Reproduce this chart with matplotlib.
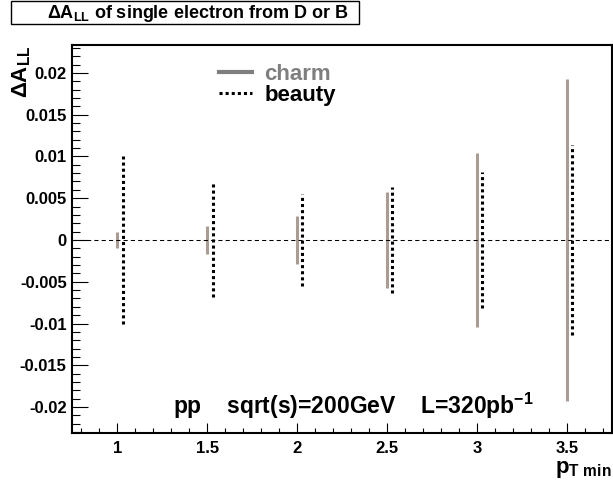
import numpy as np
import matplotlib
matplotlib.use('Agg')
import matplotlib.pyplot as plt
from matplotlib.lines import Line2D
from matplotlib.patches import Rectangle
from matplotlib.ticker import MultipleLocator, FuncFormatter

# データ
pt_min = [1.0, 1.5, 2.0, 2.5, 3.0, 3.5]
charm_val = [0, 0, 0, 0, 0, 0]
charm_err = [0.0010, 0.0017, 0.0029, 0.0057, 0.0104, 0.0193]
beauty_val = [0, 0, 0, 0, 0, 0]
beauty_err = [0.0100, 0.0068, 0.0055, 0.0063, 0.0081, 0.0114]

title = 'ΔA$_{\\mathrm{LL}}$ of single electron from D or B'
note = 'pp    sqrt(s)=200GeV    L=320pb$^{-1}$'

plt.rcParams['font.family'] = ['Liberation Sans', 'DejaVu Sans']
plt.rcParams['font.weight'] = 'bold'
plt.rcParams['mathtext.fontset'] = 'custom'
plt.rcParams['mathtext.rm'] = 'Liberation Sans:bold'
plt.rcParams['mathtext.it'] = 'Liberation Sans:bold'
plt.rcParams['mathtext.bf'] = 'Liberation Sans:bold'
plt.rcParams['axes.unicode_minus'] = False

W, H = 613, 480
fig = plt.figure(figsize=(W / 100, H / 100), dpi=100)
ax = fig.add_axes([72.3 / W, 1 - 433 / H, (611.7 - 72.3) / W, (433 - 45.3) / H])

charm_col = '#aa9c92'
shift = 0.03
x = np.array(pt_min)
c = np.array(charm_val)
b = np.array(beauty_val)

ax.vlines(x, c - np.array(charm_err), c + np.array(charm_err),
          colors=charm_col, linewidth=2.2)
ax.vlines(x + shift, b - np.array(beauty_err), b + np.array(beauty_err),
          colors='black', linewidth=2.2, linestyles=[(0, (1, 1))])
ax.axhline(0, color='black', linewidth=0.75, linestyle=(0, (4, 3)))

ax.set_xlim(0.75, 3.75)
ax.set_ylim(-0.0231, 0.0233)

# 軸の設定
ax.xaxis.set_major_locator(MultipleLocator(0.5))
ax.xaxis.set_minor_locator(MultipleLocator(0.1))
ax.yaxis.set_major_locator(MultipleLocator(0.005))
ax.yaxis.set_minor_locator(MultipleLocator(0.001))
ax.xaxis.set_major_formatter(FuncFormatter(lambda v, p: f'{v:g}'))
ax.yaxis.set_major_formatter(FuncFormatter(lambda v, p: '0' if abs(v) < 1e-9 else f'{v:g}'))
ax.tick_params(axis='both', which='both', direction='in', top=False, right=False,
               width=0.8, labelsize=12)
ax.tick_params(axis='y', which='major', length=11.5, pad=4)
ax.tick_params(axis='y', which='minor', length=5.8)
ax.tick_params(axis='x', which='major', length=7.2, pad=6)
ax.tick_params(axis='x', which='minor', length=3.6)
for s in ax.spines.values():
    s.set_linewidth(1.5)

ax.set_ylabel('ΔA$_{\\mathrm{LL}}$', fontsize=16, fontweight='bold', loc='top')
ax.yaxis.set_label_coords(-0.073, 1.0)
ax.set_xlabel('p$_{\\mathrm{T\\ min}}$', fontsize=16, fontweight='bold', loc='right', labelpad=2)

# 凡例
handles = [Line2D([], [], color='#7f7f7f', linewidth=3),
           Line2D([], [], color='black', linewidth=2.2, linestyle=(0, (1, 1)))]
leg = ax.legend(handles, ['charm', 'beauty'], loc='upper left',
                bbox_to_anchor=(0.272, 0.952), frameon=False, borderpad=0,
                borderaxespad=0, handlelength=1.5, handletextpad=0.55,
                labelspacing=0.0, prop={'size': 16, 'weight': 'bold'})
leg.get_texts()[0].set_color('#7f7f7f')

ax.text(0.187, 0.049, note, transform=ax.transAxes, fontsize=16.5,
        fontweight='bold', va='baseline', ha='left')

# タイトル
t = fig.text(46.7 / W, 1 - 13 / H, title, fontsize=13, fontweight='bold',
             ha='left', va='center')
fig.canvas.draw()
bb = t.get_window_extent()
right = bb.x1 + 11
fig.patches.append(Rectangle((11 / W, 1 - 24 / H), (right - 11) / W, 23 / H,
                             transform=fig.transFigure, fill=False,
                             edgecolor='black', linewidth=1))

fig.savefig('out.png', dpi=100)
plt.close(fig)
